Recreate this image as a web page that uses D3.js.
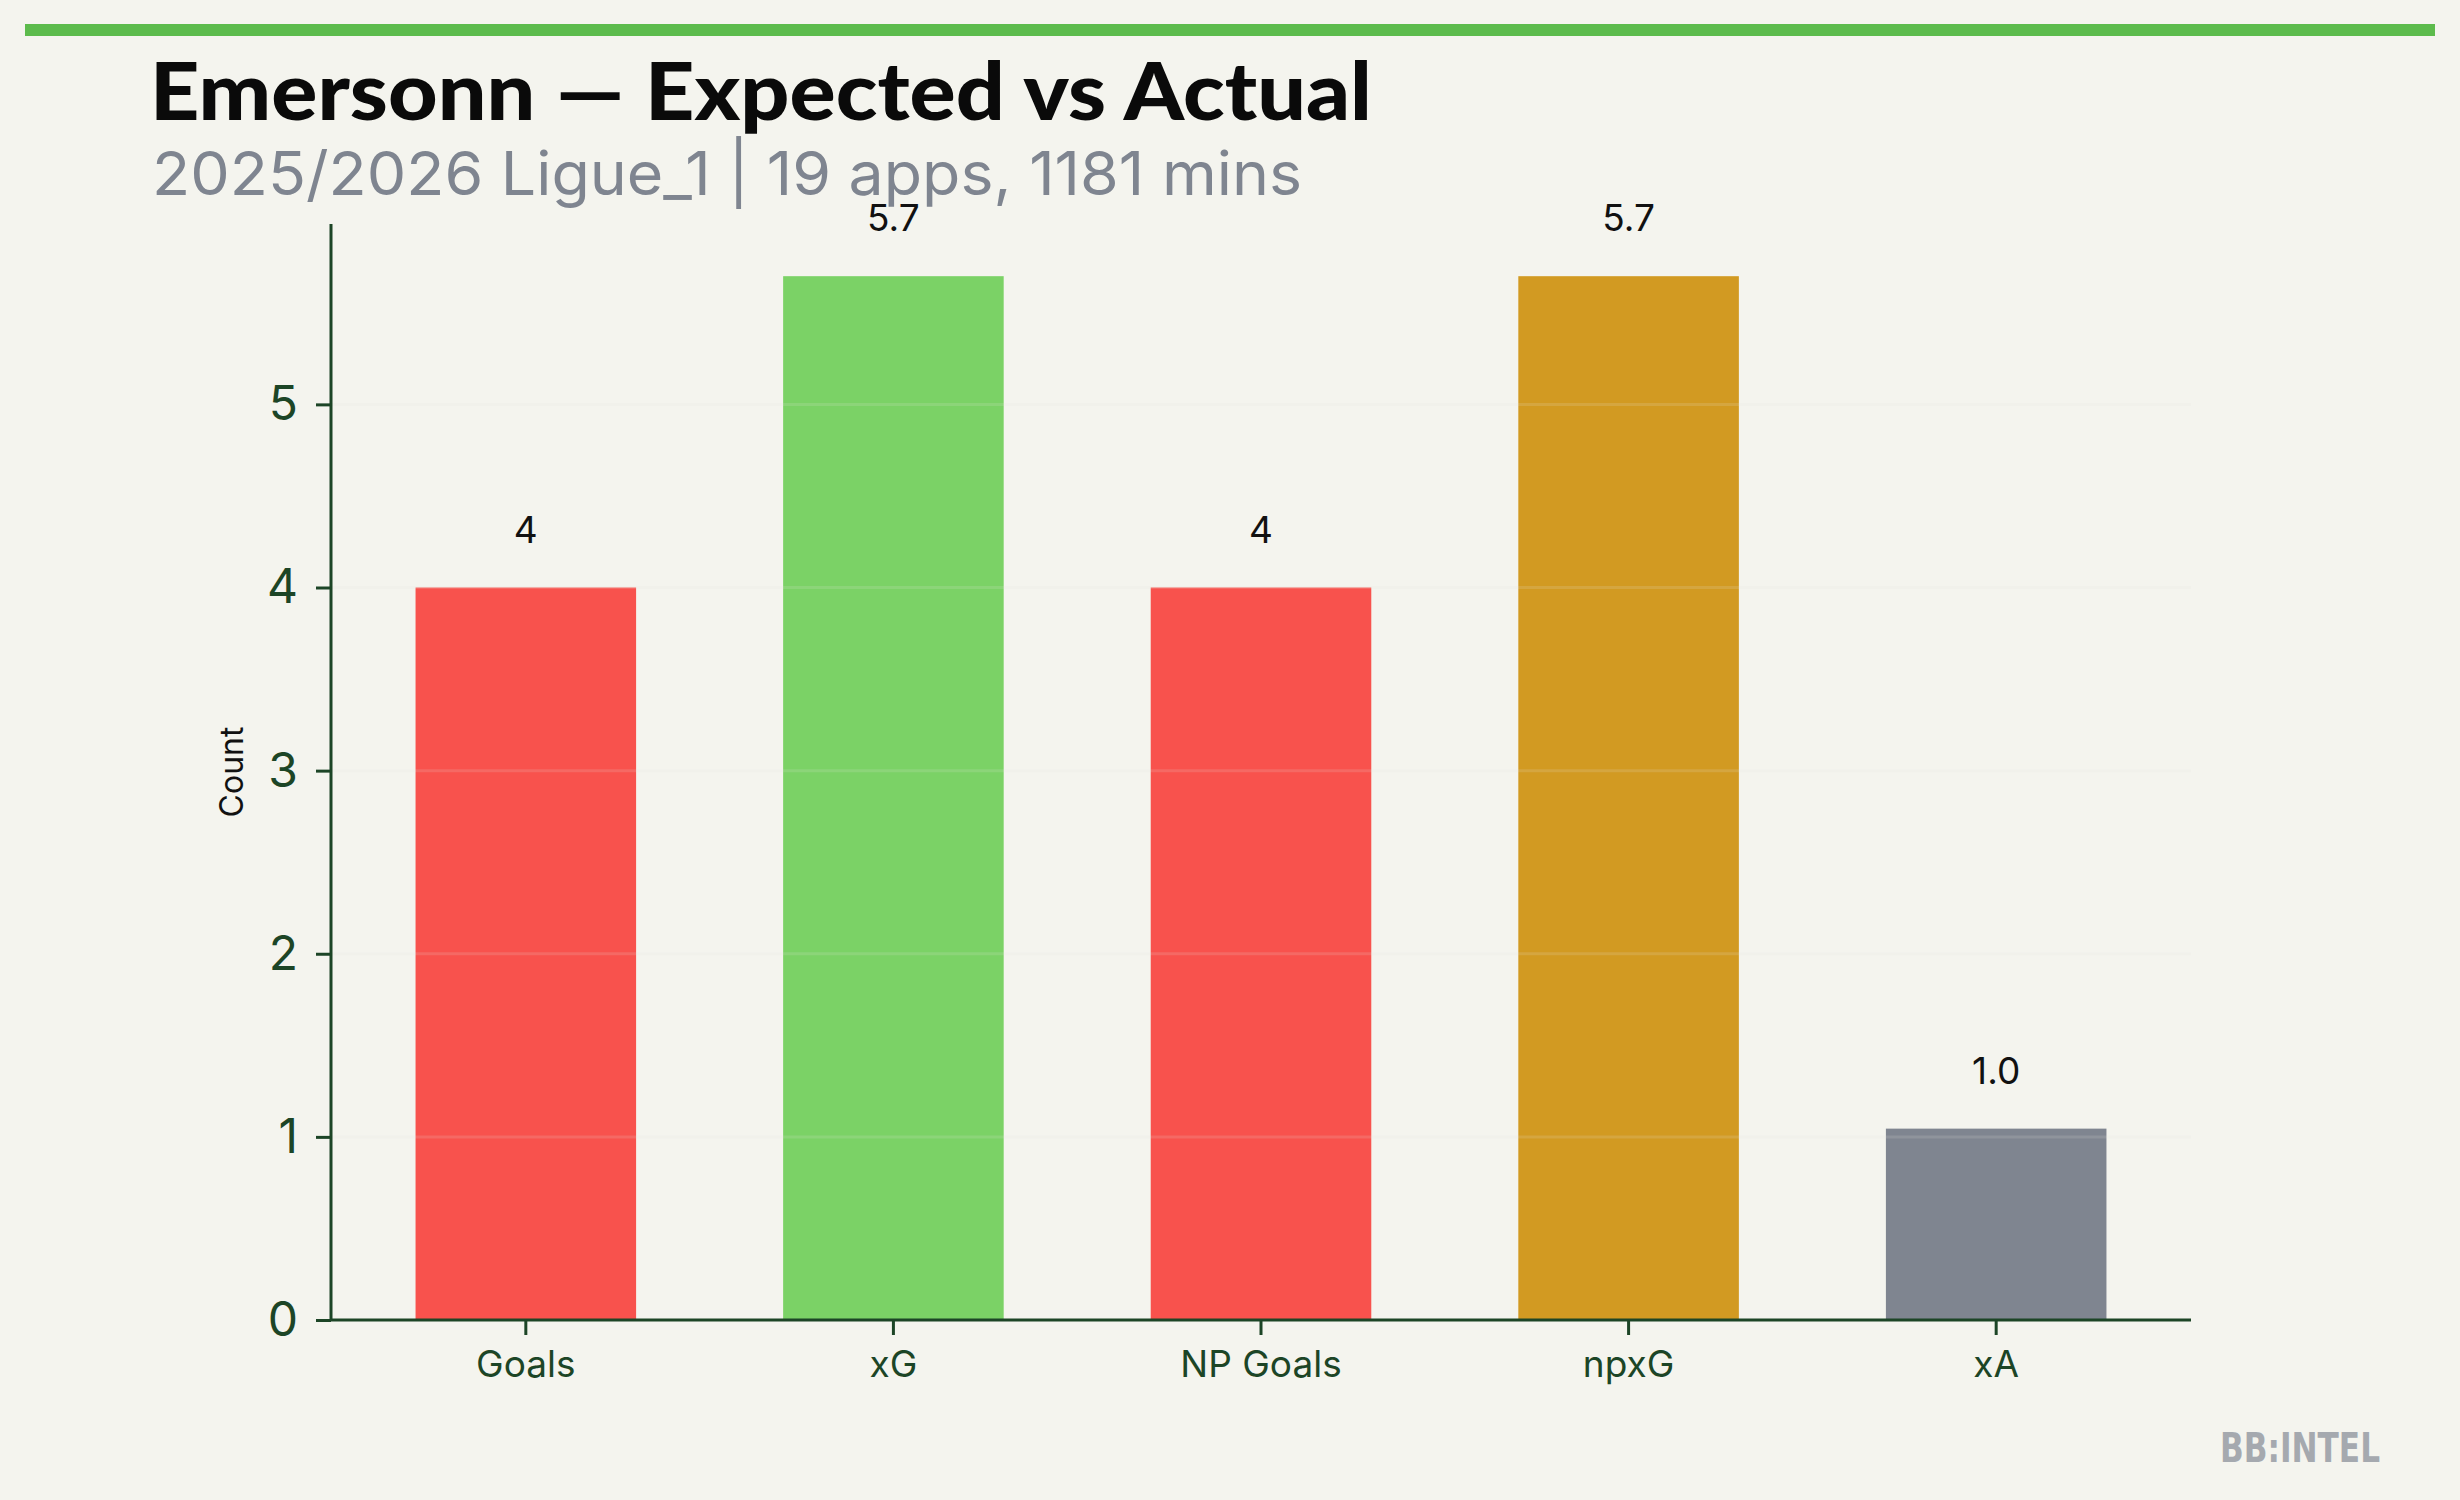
<!DOCTYPE html>
<html>
<head>
<meta charset="utf-8">
<script src="https://cdn.jsdelivr.net/npm/d3@7"></script>
<style>
  html, body { margin: 0; padding: 0; background: #F4F4EE; }
  svg { display: block; }
</style>
</head>
<body>
<svg id="chart" width="2460" height="1500"></svg>
<script>
const categories = ["Goals", "xG", "NP Goals", "npxG", "xA"];
const values = [4, 5.7, 4, 5.7, 1.045];
const valueLabels = ["4", "5.7", "4", "5.7", "1.0"];
const barColors = ["#F8524D", "#7BD266", "#F8524D", "#D29A22", "#7F8590"];
const yTicks = [0, 1, 2, 3, 4, 5];
const titleText = "Emersonn \u2014 Expected vs Actual";
const subtitleText = "2025/2026 Ligue_1 | 19 apps, 1181 mins";
const yLabel = "Count";
const watermark = "BB:INTEL";

const W = 2460, H = 1500;
const plot = { left: 331, right: 2191, top: 224, bottom: 1320 };
const axisColor = "#1C4526";

const svg = d3.select("#chart");
svg.append("rect").attr("width", W).attr("height", H).attr("fill", "#F4F4EE");

// top accent bar
svg.append("rect").attr("x", 25).attr("y", 24).attr("width", 2410).attr("height", 12).attr("fill", "#5CBB4C");

// title & subtitle
svg.append("text").attr("x", 150).attr("y", 120)
  .attr("font-family", "Lato, 'Noto Sans', sans-serif").attr("font-weight", 900)
  .attr("font-size", 80).attr("fill", "#0A0A0A")
  .attr("textLength", 1222).attr("lengthAdjust", "spacingAndGlyphs")
  .text(titleText);
svg.append("text").attr("x", 152).attr("y", 195)
  .attr("font-family", "Inter, sans-serif").attr("font-weight", 400)
  .attr("font-size", 61).attr("fill", "#7F8590")
  .attr("textLength", 1150).attr("lengthAdjust", "spacingAndGlyphs")
  .text(subtitleText);

const x = d3.scaleBand().domain(categories).range([plot.left, plot.right])
  .paddingInner(0.4).paddingOuter(0.23);
const y = d3.scaleLinear().domain([0, 5.985]).range([plot.bottom, plot.top]);

// bars
svg.append("g").selectAll("rect").data(categories).join("rect")
  .attr("x", d => x(d))
  .attr("y", (d, i) => y(values[i]))
  .attr("width", x.bandwidth())
  .attr("height", (d, i) => y(0) - y(values[i]))
  .attr("fill", (d, i) => barColors[i]);

// gridlines (drawn over bars)
svg.append("g").selectAll("line").data(yTicks.filter(t => t > 0)).join("line")
  .attr("x1", plot.left).attr("x2", plot.right)
  .attr("y1", d => y(d)).attr("y2", d => y(d))
  .attr("stroke", "#E8E8E2").attr("stroke-opacity", 0.16).attr("stroke-width", 3);

// value labels
svg.append("g").selectAll("text").data(categories).join("text")
  .attr("x", d => x(d) + x.bandwidth() / 2)
  .attr("y", (d, i) => y(values[i]) - 45)
  .attr("text-anchor", "middle")
  .attr("font-family", "Inter, sans-serif").attr("font-size", 37).attr("fill", "#111")
  .text((d, i) => valueLabels[i]);

// x axis
const xAxis = svg.append("g").attr("transform", `translate(0,${plot.bottom})`)
  .call(d3.axisBottom(x).tickSize(15).tickSizeOuter(0).tickPadding(16));
xAxis.select(".domain").attr("stroke", axisColor).attr("stroke-width", 3)
  .attr("d", `M${plot.left},0H${plot.right}`);
xAxis.selectAll(".tick line").attr("stroke", axisColor).attr("stroke-width", 3);
xAxis.selectAll(".tick text").attr("fill", axisColor)
  .attr("font-family", "Inter, sans-serif").attr("font-size", 37);

// y axis
const yAxis = svg.append("g").attr("transform", `translate(${plot.left},0)`)
  .call(d3.axisLeft(y).tickValues(yTicks).tickFormat(d3.format("d")).tickSize(15).tickSizeOuter(0).tickPadding(18));
yAxis.select(".domain").attr("stroke", axisColor).attr("stroke-width", 3)
  .attr("d", `M0,${plot.top}V${plot.bottom}`);
yAxis.selectAll(".tick line").attr("stroke", axisColor).attr("stroke-width", 3);
yAxis.selectAll(".tick text").attr("fill", axisColor)
  .attr("font-family", "Inter, sans-serif").attr("font-size", 48);

// y label
svg.append("text")
  .attr("transform", `translate(232,${(plot.top + plot.bottom) / 2}) rotate(-90)`)
  .attr("text-anchor", "middle").attr("dy", "0.35em")
  .attr("font-family", "Inter, sans-serif").attr("font-size", 32).attr("fill", "#111")
  .text(yLabel);

// watermark
svg.append("text").attr("x", 2380).attr("y", 1462).attr("text-anchor", "end")
  .attr("font-family", "'DejaVu Sans', sans-serif").attr("font-weight", 700)
  .attr("font-size", 40).attr("fill", "#A5A9AF")
  .attr("textLength", 160).attr("lengthAdjust", "spacingAndGlyphs")
  .text(watermark);
</script>
</body>
</html>
